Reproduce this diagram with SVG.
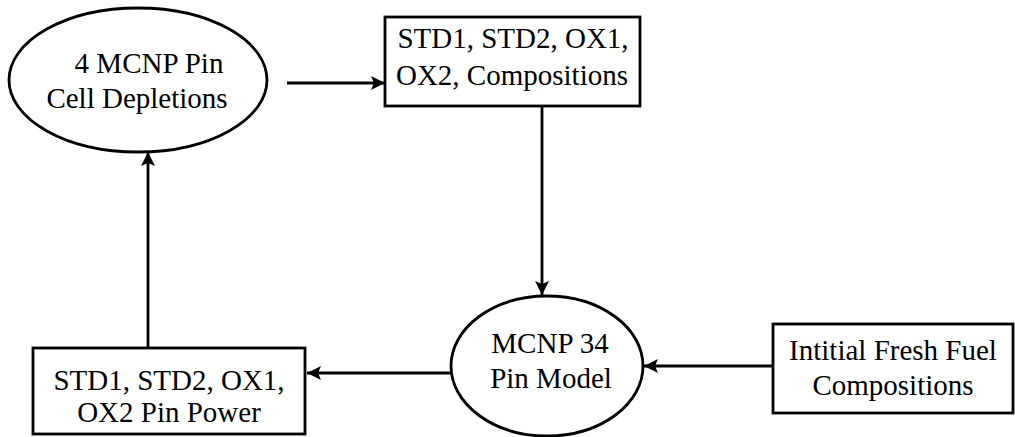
<svg xmlns="http://www.w3.org/2000/svg" width="1015" height="437" viewBox="0 0 1015 437">
<style>
.shape{fill:#fff;stroke:#000;stroke-width:2.8}
.lbl{font-family:"Liberation Serif","Times New Roman",serif;font-size:29px;fill:#000;text-anchor:middle}
.conn{stroke:#000;stroke-width:2.8;fill:none;marker-end:url(#arr)}
</style>
<defs>
<marker id="arr" markerUnits="userSpaceOnUse" markerWidth="15" markerHeight="14" refX="14" refY="7" orient="auto">
<path d="M0,0 L14,7 L0,14 L3,7 Z" fill="#000"/>
</marker>
</defs>
<rect width="1015" height="437" fill="#fff"/>
<g id="connectors">
<line class="conn" x1="287" y1="83" x2="385" y2="83"/>
<line class="conn" x1="542" y1="106" x2="542" y2="295"/>
<line class="conn" x1="773" y1="366" x2="644" y2="366"/>
<line class="conn" x1="451" y1="373" x2="307" y2="373"/>
<line class="conn" x1="148" y1="348" x2="148" y2="152"/>
</g>
<g id="pin-cell-depletions">
<ellipse class="shape" cx="138" cy="80" rx="129" ry="72"/>
<text class="lbl" x="149" y="73">4 MCNP Pin</text>
<text class="lbl" x="137" y="108">Cell Depletions</text>
</g>
<g id="compositions">
<rect class="shape" x="385" y="17" width="255" height="89"/>
<text class="lbl" x="513" y="48">STD1, STD2, OX1,</text>
<text class="lbl" x="512" y="85">OX2, Compositions</text>
</g>
<g id="pin-model">
<ellipse class="shape" cx="547" cy="366" rx="96" ry="70"/>
<text class="lbl" x="550" y="353">MCNP 34</text>
<text class="lbl" x="551" y="388">Pin Model</text>
</g>
<g id="fresh-fuel">
<rect class="shape" x="773" y="324" width="240" height="89"/>
<text class="lbl" x="893" y="360">Intitial Fresh Fuel</text>
<text class="lbl" x="893" y="395">Compositions</text>
</g>
<g id="pin-power">
<rect class="shape" x="33" y="348" width="272" height="86"/>
<text class="lbl" x="169" y="390">STD1, STD2, OX1,</text>
<text class="lbl" x="169" y="422">OX2 Pin Power</text>
</g>
</svg>
